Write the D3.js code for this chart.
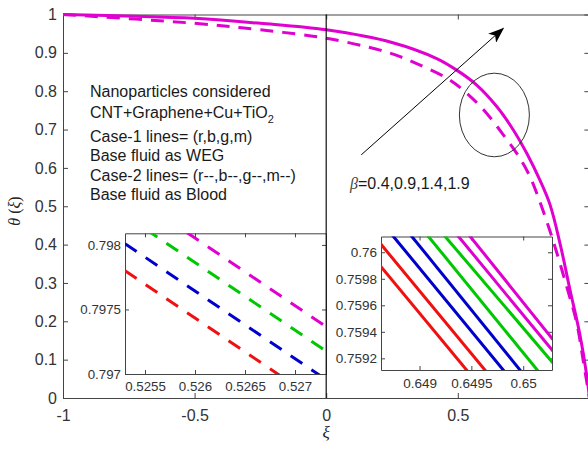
<!DOCTYPE html>
<html>
<head>
<meta charset="utf-8">
<script src="https://cdn.jsdelivr.net/npm/d3@7"></script>
<style>
  body { margin: 0; background: #fff; }
  svg { display: block; font-family: "Liberation Sans", Arial, sans-serif; }
</style>
</head>
<body>
<div id="chart"></div>
<script>
// Main profiles
var xiCase1 = [-1, -0.5, -0.25, 0, 0.25, 0.42, 0.5, 0.572, 0.648, 0.711, 0.762, 0.812, 0.851, 0.89, 0.926, 0.964, 0.990, 1.0];
var thetaCase1 = [1.0, 0.990, 0.977, 0.960, 0.927, 0.885, 0.853, 0.816, 0.760, 0.699, 0.638, 0.568, 0.503, 0.398, 0.283, 0.165, 0.058, 0];
var xiCase2 = [-1, -0.5, -0.25, 0, 0.205, 0.281, 0.357, 0.458, 0.534, 0.610, 0.673, 0.724, 0.768, 0.800, 0.857, 0.914, 0.952, 0.977, 1.0];
var thetaCase2 = [1.0, 0.977, 0.960, 0.938, 0.907, 0.890, 0.868, 0.834, 0.795, 0.742, 0.686, 0.638, 0.586, 0.534, 0.421, 0.290, 0.195, 0.095, 0];

var xTicks = [-1, -0.5, 0, 0.5, 1];
var xTickLabels = ["-1", "-0.5", "0", "0.5", ""];   // "1" falls off the right edge
var yTicks = [0, 0.1, 0.2, 0.3, 0.4, 0.5, 0.6, 0.7, 0.8, 0.9, 1];

// zoom window A : case-2 (dashed) lines
var zoomANames = ["r--", "b--", "g--", "m--"];
var zoomAXi = [0.5253, 0.5274];
var zoomAThetaStart = [0.79780, 0.79801, 0.79823, 0.79842];
var zoomAThetaEnd = [0.79670, 0.79691, 0.79713, 0.79732];
var zoomAXTicks = [0.5255, 0.526, 0.5265, 0.527];
var zoomAYTicks = [0.797, 0.7975, 0.798];

// zoom window B : both cases, solid
var zoomBNames = ["r", "r2", "b", "b2", "g", "g2", "m", "m2"];
var zoomBStart = [[0.648628, 0.759891], [0.648628, 0.760060], [0.648747, 0.76012], [0.648925, 0.76012],
                  [0.649085, 0.76012], [0.649246, 0.76012], [0.649375, 0.76012], [0.649488, 0.76012]];
var zoomBEnd = [[0.649456, 0.75911], [0.649633, 0.75911], [0.649810, 0.75911], [0.649971, 0.75911],
                [0.650138, 0.75911], [0.650278, 0.759174], [0.650278, 0.759263], [0.650278, 0.759351]];
var zoomBXTicks = [0.649, 0.6495, 0.65];
var zoomBYTicks = [0.7592, 0.7594, 0.7596, 0.7598, 0.76];

var colorOf = { r: "#f01010", b: "#0000cc", g: "#00c800", m: "#e000d0" };
var axisColor = "#444";
var labelColor = "#333";

var svgWidth = 588;
var svgHeight = 453;

var svg = d3.select("#chart")
    .append("svg")
    .attr("width", svgWidth)
    .attr("height", svgHeight);

var defs = svg.append("defs");

// main scales
var x = d3.scaleLinear().domain([-1, 1]).range([63, 589.4]);
var y = d3.scaleLinear().domain([0, 1]).range([398, 14.5]);

function fmt(d) { return String(+d.toFixed(5)); }

function drawBox(g, xs, ys, xt, yt, tick, opts) {
    var x0 = xs.range()[0], x1 = xs.range()[1];
    var y0 = ys.range()[0], y1 = ys.range()[1];
    g.append("rect")
        .attr("x", x0).attr("y", y1)
        .attr("width", x1 - x0).attr("height", y0 - y1)
        .attr("fill", "#fff");
    var b = g.append("g").attr("transform", "translate(0," + y0 + ")")
        .call(d3.axisBottom(xs).tickValues(xt).tickFormat(opts.xFmt || fmt).tickSize(-tick).tickSizeOuter(0).tickPadding(opts.xPad));
    var t = g.append("g").attr("transform", "translate(0," + y1 + ")")
        .call(d3.axisTop(xs).tickValues(xt).tickFormat("").tickSize(-tick).tickSizeOuter(0));
    var l = g.append("g").attr("transform", "translate(" + x0 + ",0)")
        .call(d3.axisLeft(ys).tickValues(yt).tickFormat(fmt).tickSize(-tick).tickSizeOuter(0).tickPadding(opts.yPad));
    var r = g.append("g").attr("transform", "translate(" + x1 + ",0)")
        .call(d3.axisRight(ys).tickValues(yt).tickFormat("").tickSize(-tick).tickSizeOuter(0));
    [b, t, l, r].forEach(function (a) {
        a.selectAll("path").attr("stroke", axisColor).attr("stroke-width", 1);
        a.selectAll("line").attr("stroke", axisColor).attr("stroke-width", 1);
        a.selectAll("text").attr("fill", labelColor)
            .style("font-family", "'Liberation Sans', Arial, sans-serif")
            .style("font-size", opts.font + "px");
    });
}

// Main axes
var mainG = svg.append("g");
drawBox(mainG, x, y, xTicks, yTicks, 5, {
    xPad: 12, yPad: 6, font: 16,
    xFmt: function (d, i) { return xTickLabels[i]; }
});

defs.append("clipPath").attr("id", "clipMain")
    .append("rect").attr("x", 63).attr("y", 10).attr("width", 530).attr("height", 390);

var line = d3.line()
    .x(function (d) { return x(d[0]); })
    .y(function (d) { return y(d[1]); })
    .curve(d3.curveCatmullRom.alpha(0.5));

var curveG = svg.append("g").attr("clip-path", "url(#clipMain)");

curveG.append("path")
    .datum(xiCase2.map(function (v, i) { return [v, thetaCase2[i]]; }))
    .attr("d", line)
    .attr("fill", "none")
    .attr("stroke", colorOf.m)
    .attr("stroke-width", 3)
    .attr("stroke-dasharray", "13,9");

curveG.append("path")
    .datum(xiCase1.map(function (v, i) { return [v, thetaCase1[i]]; }))
    .attr("d", line)
    .attr("fill", "none")
    .attr("stroke", colorOf.m)
    .attr("stroke-width", 3);

// zoom window A
var xa = d3.scaleLinear().domain([0.5253, 0.52731]).range([125, 326]);
var ya = d3.scaleLinear().domain([0.797, 0.79809]).range([374, 233.3]);
var zoomAG = svg.append("g");
drawBox(zoomAG, xa, ya, zoomAXTicks, zoomAYTicks, 4, { xPad: 8, yPad: 4, font: 13.3 });

defs.append("clipPath").attr("id", "clipA")
    .append("rect").attr("x", 125).attr("y", 233.3).attr("width", 201).attr("height", 140.7);

zoomAG.append("g").attr("clip-path", "url(#clipA)")
    .selectAll("line.zl")
    .data(zoomANames)
    .enter()
    .append("line")
    .attr("x1", xa(zoomAXi[0]))
    .attr("x2", xa(zoomAXi[1]))
    .attr("y1", function (d, i) { return ya(zoomAThetaStart[i]); })
    .attr("y2", function (d, i) { return ya(zoomAThetaEnd[i]); })
    .attr("stroke", function (d) { return colorOf[d[0]]; })
    .attr("stroke-width", 3)
    .attr("stroke-dasharray", "14,11");

// zoom window B
var xb = d3.scaleLinear().domain([0.648628, 0.650278]).range([381, 552]);
var yb = d3.scaleLinear().domain([0.759112, 0.760119]).range([370, 236.5]);
var zoomBG = svg.append("g");
drawBox(zoomBG, xb, yb, zoomBXTicks, zoomBYTicks, 4, { xPad: 8, yPad: 4, font: 13.5 });

defs.append("clipPath").attr("id", "clipB")
    .append("rect").attr("x", 381).attr("y", 236.5).attr("width", 171).attr("height", 133.5);

zoomBG.append("g").attr("clip-path", "url(#clipB)")
    .selectAll("line.zl")
    .data(zoomBNames)
    .enter()
    .append("line")
    .attr("x1", function (d, i) { return xb(zoomBStart[i][0]); })
    .attr("y1", function (d, i) { return yb(zoomBStart[i][1]); })
    .attr("x2", function (d, i) { return xb(zoomBEnd[i][0]); })
    .attr("y2", function (d, i) { return yb(zoomBEnd[i][1]); })
    .attr("stroke", function (d) { return colorOf[d[0]]; })
    .attr("stroke-width", 3)
    .attr("stroke-linecap", "square");

// vertical line at xi = 0
svg.append("line")
    .attr("x1", x(0)).attr("x2", x(0))
    .attr("y1", y(0)).attr("y2", y(1))
    .attr("stroke", "#111")
    .attr("stroke-width", 1.2);

// axis labels
var yLab = svg.append("text")
    .attr("transform", "translate(20,211) rotate(-90)")
    .attr("text-anchor", "middle")
    .style("font-family", "'Liberation Serif', 'Times New Roman', serif")
    .style("font-size", "16px")
    .attr("fill", "#222");
yLab.append("tspan").style("font-style", "italic").text("θ");
yLab.append("tspan").text(" (");
yLab.append("tspan").style("font-style", "italic").text("ξ");
yLab.append("tspan").text(")");

svg.append("text")
    .attr("x", x(0))
    .attr("y", 438)
    .attr("text-anchor", "middle")
    .style("font-family", "'Liberation Serif', 'Times New Roman', serif")
    .style("font-style", "italic")
    .style("font-size", "17px")
    .attr("fill", "#222")
    .text("ξ");

// legend-like notes
var notes = svg.append("g")
    .style("font-size", "16px")
    .attr("fill", "#1a1a1a");

notes.append("text").attr("x", 90).attr("y", 97).text("Nanoparticles considered");
var cnt = notes.append("text").attr("x", 90).attr("y", 118);
cnt.append("tspan").text("CNT+Graphene+Cu+TiO");
cnt.append("tspan").attr("dy", 5).style("font-size", "11px").text("2");
notes.append("text").attr("x", 90).attr("y", 142).text("Case-1 lines= (r,b,g,m)");
notes.append("text").attr("x", 90).attr("y", 161).text("Base fluid as WEG");
notes.append("text").attr("x", 90).attr("y", 181).text("Case-2 lines= (r--,b--,g--,m--)");
notes.append("text").attr("x", 90).attr("y", 200).text("Base fluid as Blood");

var beta = notes.append("text").attr("x", 350).attr("y", 189);
beta.append("tspan")
    .style("font-family", "'Liberation Serif', 'Times New Roman', serif")
    .style("font-style", "italic")
    .attr("fill", "#444")
    .text("β");
beta.append("tspan").text("=0.4,0.9,1.4,1.9");

// arrow and ellipse annotation (data units)
defs.append("marker")
    .attr("id", "head")
    .attr("markerUnits", "userSpaceOnUse")
    .attr("viewBox", "0 -6 16 12")
    .attr("refX", 15)
    .attr("refY", 0)
    .attr("markerWidth", 16)
    .attr("markerHeight", 12)
    .attr("orient", "auto")
    .append("path")
    .attr("d", "M0,-6L16,0L0,6L4,0Z")
    .attr("fill", "#000");

svg.append("line")
    .attr("x1", x(0.133)).attr("y1", y(0.634))
    .attr("x2", x(0.673)).attr("y2", y(0.964))
    .attr("stroke", "#000")
    .attr("stroke-width", 1)
    .attr("marker-end", "url(#head)");

svg.append("ellipse")
    .attr("cx", x(0.639))
    .attr("cy", y(0.738))
    .attr("rx", x(0.639 + 0.133) - x(0.639))
    .attr("ry", y(0.738) - y(0.738 + 0.109))
    .attr("fill", "none")
    .attr("stroke", "#333")
    .attr("stroke-width", 1);
</script>
</body>
</html>
